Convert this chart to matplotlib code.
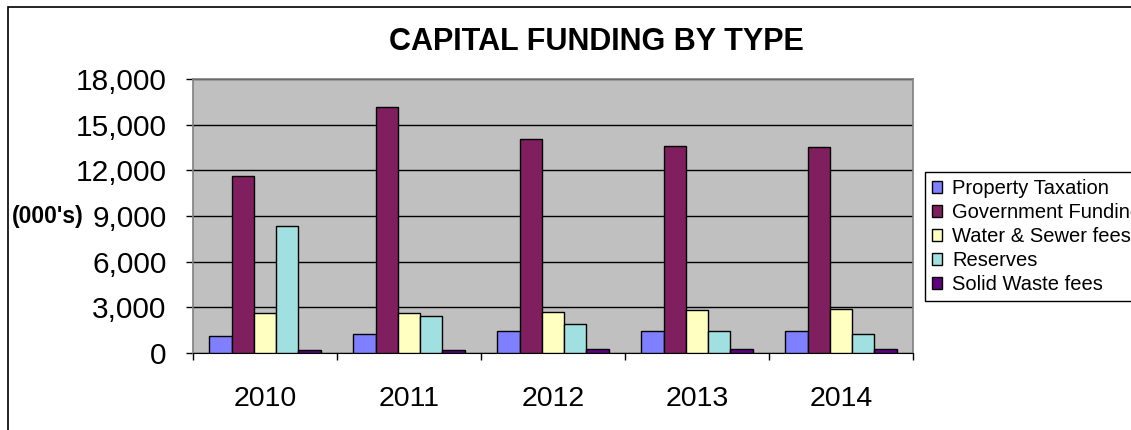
import numpy as np
import matplotlib
matplotlib.use("Agg")
import matplotlib.pyplot as plt
from matplotlib.patches import Rectangle
from matplotlib.ticker import FuncFormatter

plt.rcParams['font.family'] = ['Liberation Sans', 'DejaVu Sans']

# data (000's)
years = ["2010", "2011", "2012", "2013", "2014"]
series_names = ["Property Taxation", "Government Funding", "Water & Sewer fees",
                "Reserves", "Solid Waste fees"]
property_tax = [1090, 1250, 1420, 1420, 1420]
government = [11600, 16160, 14060, 13600, 13510]
water_sewer = [2630, 2630, 2710, 2825, 2910]
reserves = [8320, 2450, 1900, 1420, 1250]
solid_waste = [175, 175, 260, 260, 260]
colors = ["#8080FF", "#7F1F5F", "#FFFFC0", "#A0E0E0", "#600080"]

fig = plt.figure(figsize=(11.31, 4.30), dpi=100)

# outer chart border
fig.patches.append(Rectangle((8 / 1131, -0.5), 2, 0.5 + (430 - 7) / 430,
                             transform=fig.transFigure, fill=False,
                             edgecolor="black", linewidth=1.2))

ax = fig.add_axes([193 / 1131, 77 / 430, 720 / 1131, 274 / 430])
ax.set_facecolor("#C0C0C0")

x = np.arange(len(years))
w = 0.155
all_series = [property_tax, government, water_sewer, reserves, solid_waste]
for i, vals in enumerate(all_series):
    ax.bar(x + (i - 2) * w, vals, width=w, color=colors[i], edgecolor="black",
           linewidth=1.0, label=series_names[i], zorder=3)

ax.set_xlim(-0.5, 4.5)
ax.set_ylim(0, 18000)
ax.set_yticks(range(0, 18001, 3000))
ax.yaxis.set_major_formatter(FuncFormatter(lambda v, p: f"{int(v):,}"))
ax.yaxis.grid(True, color="black", linewidth=1.0, zorder=1)
ax.set_axisbelow(True)

# category boundaries as ticks, labels in the middle
ax.set_xticks(np.arange(-0.5, 5, 1.0))
ax.set_xticklabels([])
ax.set_xticks(x, minor=True)
ax.set_xticklabels(years, minor=True, fontsize=20.5)
ax.tick_params(axis="x", which="major", direction="out", length=5, width=1)
ax.tick_params(axis="x", which="minor", length=0, pad=24)
ax.tick_params(axis="y", direction="out", length=5, width=1, labelsize=21.5, pad=14)

for s in ["top", "right", "left"]:
    ax.spines[s].set_color("#808080")
    ax.spines[s].set_linewidth(1.2)
ax.spines["bottom"].set_color("black")

fig.text(596 / 1131, 1 - 42 / 430, "CAPITAL FUNDING BY TYPE", fontsize=22,
         fontweight="bold", ha="center", va="center")
fig.text(12 / 1131, 1 - 217 / 430, "(000's)", fontsize=16.5, fontweight="bold",
         ha="left", va="center")

leg = ax.legend(loc="upper left", bbox_to_anchor=(925 / 1131, 1 - 172 / 430),
                bbox_transform=fig.transFigure, borderaxespad=0, fontsize=14.5,
                frameon=True, fancybox=False, edgecolor="black",
                handlelength=0.5, handleheight=0.5, handletextpad=0.5,
                labelspacing=0.25, borderpad=0.35)
leg.get_frame().set_linewidth(1.0)
leg.get_frame().set_alpha(1)

fig.savefig("out.png", dpi=100)
